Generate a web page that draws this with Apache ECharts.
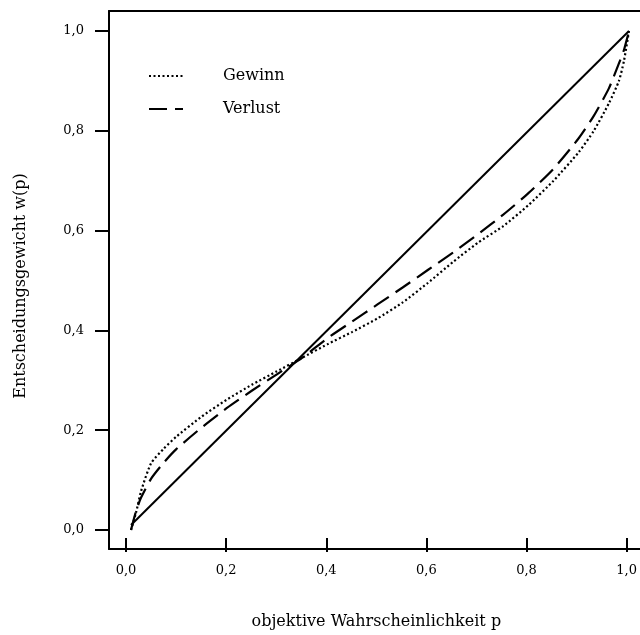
<!DOCTYPE html>
<html>
<head>
<meta charset="utf-8">
<script src="https://cdn.jsdelivr.net/npm/echarts@6/dist/echarts.min.js"></script>
<style>html,body{margin:0;padding:0;background:#fff;}#c{width:640px;height:635px;}</style>
</head>
<body>
<div id="c"></div>
<script>
// objective probability p
const pValues = [0.01,0.02,0.03,0.05,0.075,0.1,0.15,0.2,0.25,0.3,0.35,0.4,0.45,0.5,0.55,0.6,0.65,0.7,0.75,0.8,0.85,0.9,0.93,0.96,0.98,0.99,1.0];
// decision weight w(p) — gains (dotted)
const gewinn = [0,0.035,0.078,0.134,0.163,0.187,0.227,0.261,0.291,0.318,0.345,0.372,0.397,0.424,0.456,0.495,0.537,0.576,0.609,0.651,0.700,0.757,0.800,0.855,0.900,0.940,1.0];
// decision weight w(p) — losses (dashed)
const verlust = [0,0.038,0.065,0.103,0.135,0.162,0.205,0.244,0.279,0.312,0.345,0.384,0.418,0.452,0.486,0.521,0.556,0.593,0.632,0.675,0.724,0.785,0.830,0.885,0.935,0.962,1.0];
// diagonal (w = p)
const diagP = [0.01, 1.0];
const diagW = [0.01, 1.0];
// tick labels
const xTickLabels = ['0,0','0,2','0,4','0,6','0,8','1,0'];
const yTickLabels = ['0,0','0,2','0,4','0,6','0,8','1,0'];
const seriesNames = ['Gewinn','Verlust'];
const xTitle = 'objektive Wahrscheinlichkeit p';
const yTitle = 'Entscheidungsgewicht w(p)';

const FONT = 'DejaVu Serif';
const pairs = (xs, ys) => xs.map((x, i) => [x, ys[i]]);
const boxLine = {show: true, onZero: false, lineStyle: {color: '#000', width: 2}};
const hidden = {show: false};

const chart = echarts.init(document.getElementById('c'), null, {renderer: 'canvas'});
chart.setOption({
  animation: false,
  backgroundColor: '#fff',
  textStyle: {fontFamily: FONT, color: '#000'},
  grid: [
    // plotting region (box), right edge runs off the canvas as in the reference
    {left: 109, top: 11, width: 531, height: 538},
    // x ticks region
    {left: 126, top: 50, width: 503, height: 499},
    // y ticks region
    {left: 109, top: 31, width: 520, height: 499}
  ],
  legend: {
    data: seriesNames,
    orient: 'vertical',
    left: 148,
    top: 68,
    padding: 0,
    itemWidth: 34,
    itemHeight: 14,
    itemGap: 17,
    itemStyle: {color: 'rgba(0,0,0,0)', borderColor: 'rgba(0,0,0,0)', borderWidth: 0, opacity: 0},
    textStyle: {fontFamily: FONT, fontSize: 16, color: '#000', lineHeight: 16, padding: [0, 0, 0, 35]}
  },
  xAxis: [
    {gridIndex: 0, type: 'value', position: 'bottom', min: -0.0338, max: 1.0219,
     axisLine: boxLine, axisTick: hidden, axisLabel: hidden, splitLine: hidden},
    {gridIndex: 1, type: 'value', position: 'bottom', min: 0, max: 1, interval: 0.2,
     axisLine: {show: false, onZero: false},
     axisTick: {show: true, inside: false, length: 14, lineStyle: {color: '#000', width: 2}},
     axisLabel: {show: true, margin: 26, fontFamily: FONT, fontSize: 13, color: '#000',
       formatter: v => xTickLabels[Math.round(v / 0.2)]},
     splitLine: hidden,
     name: xTitle, nameLocation: 'middle', nameGap: 76,
     nameTextStyle: {fontFamily: FONT, fontSize: 16, color: '#000'}},
    {gridIndex: 2, type: 'value', show: false, min: 0, max: 1},
    {gridIndex: 0, type: 'value', position: 'top', min: -0.0338, max: 1.0219,
     axisLine: boxLine, axisTick: hidden, axisLabel: hidden, splitLine: hidden}
  ],
  yAxis: [
    {gridIndex: 0, type: 'value', position: 'left', min: -0.0381, max: 1.0401,
     axisLine: boxLine, axisTick: hidden, axisLabel: hidden, splitLine: hidden,
     name: yTitle, nameLocation: 'middle', nameGap: 80,
     nameTextStyle: {fontFamily: FONT, fontSize: 16, color: '#000', padding: [0, 12, 0, 0]}},
    {gridIndex: 1, type: 'value', show: false, min: 0, max: 1},
    {gridIndex: 2, type: 'value', position: 'left', min: 0, max: 1, interval: 0.2,
     axisLine: {show: false, onZero: false},
     axisTick: {show: true, inside: false, length: 14, lineStyle: {color: '#000', width: 2}},
     axisLabel: {show: true, margin: 25, fontFamily: FONT, fontSize: 13, color: '#000',
       formatter: v => yTickLabels[Math.round(v / 0.2)]},
     splitLine: hidden}
  ],
  series: [
    {type: 'line', xAxisIndex: 0, yAxisIndex: 0, symbol: 'none', silent: true,
     data: pairs(diagP, diagW), lineStyle: {color: '#000', width: 2, type: 'solid'}},
    {name: seriesNames[0], type: 'line', xAxisIndex: 0, yAxisIndex: 0, symbol: 'none', smooth: 0.2,
     data: pairs(pValues, gewinn), itemStyle: {color: '#000'},
     lineStyle: {color: '#000', width: 2.2, type: [2, 2.5], cap: 'butt'}},
    {name: seriesNames[1], type: 'line', xAxisIndex: 0, yAxisIndex: 0, symbol: 'none', smooth: 0.2,
     data: pairs(pValues, verlust), itemStyle: {color: '#000'},
     lineStyle: {color: '#000', width: 2.2, type: [18, 8], cap: 'butt'}}
  ]
});
</script>
</body>
</html>
